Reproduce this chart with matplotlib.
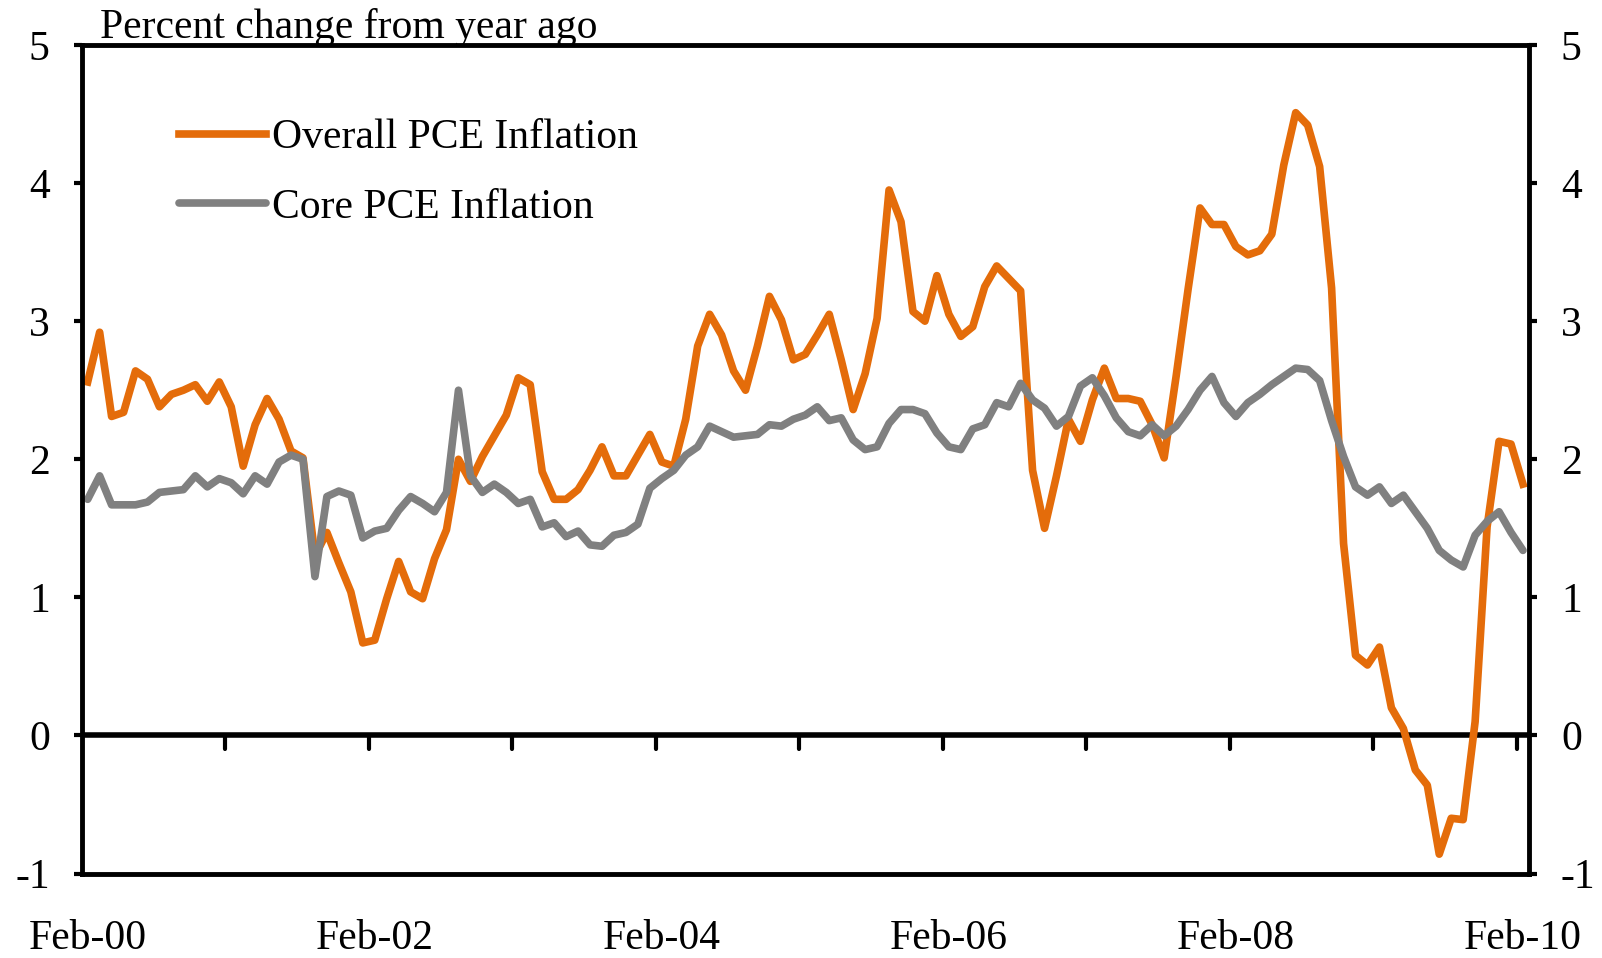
import numpy as np
import matplotlib.pyplot as plt

plt.rcParams['font.family'] = ['Liberation Serif', 'DejaVu Serif']
plt.rcParams['axes.unicode_minus'] = False

# monthly, Feb-2000 .. Feb-2010, percent change from year ago
overall_pce = [
    2.56, 2.92, 2.31, 2.34, 2.64, 2.58, 2.38, 2.47, 2.50, 2.54, 2.42, 2.56,
    2.38, 1.95, 2.25, 2.44, 2.29, 2.06, 2.01, 1.30, 1.47, 1.25, 1.04, 0.67,
    0.69, 0.99, 1.26, 1.04, 0.99, 1.28, 1.49, 2.00, 1.84, 2.02, 2.17, 2.32,
    2.59, 2.54, 1.91, 1.71, 1.71, 1.78, 1.92, 2.09, 1.88, 1.88, 2.03, 2.18,
    1.98, 1.95, 2.29, 2.82, 3.05, 2.90, 2.64, 2.50, 2.82, 3.18, 3.01, 2.72,
    2.76, 2.90, 3.05, 2.72, 2.36, 2.62, 3.02, 3.95, 3.72, 3.07, 3.00, 3.33,
    3.05, 2.89, 2.96, 3.25, 3.40, 3.31, 3.22, 1.92, 1.50, 1.88, 2.29, 2.13,
    2.43, 2.66, 2.44, 2.44, 2.42, 2.25, 2.01, 2.60, 3.23, 3.82, 3.70, 3.70,
    3.54, 3.48, 3.51, 3.63, 4.13, 4.51, 4.42, 4.12, 3.24, 1.39, 0.58, 0.51,
    0.64, 0.20, 0.05, -0.25, -0.36, -0.86, -0.60, -0.61, 0.10, 1.51, 2.13, 2.11,
    1.82,
]
core_pce = [
    1.71, 1.88, 1.67, 1.67, 1.67, 1.69, 1.76, 1.77, 1.78, 1.88, 1.80, 1.86,
    1.83, 1.75, 1.88, 1.82, 1.98, 2.03, 2.00, 1.15, 1.73, 1.77, 1.74, 1.43,
    1.48, 1.50, 1.63, 1.73, 1.68, 1.62, 1.76, 2.50, 1.88, 1.76, 1.82, 1.76,
    1.68, 1.71, 1.51, 1.54, 1.44, 1.48, 1.38, 1.37, 1.45, 1.47, 1.53, 1.79,
    1.86, 1.92, 2.03, 2.09, 2.24, 2.20, 2.16, 2.17, 2.18, 2.25, 2.24, 2.29,
    2.32, 2.38, 2.28, 2.30, 2.14, 2.07, 2.09, 2.26, 2.36, 2.36, 2.33, 2.19,
    2.09, 2.07, 2.22, 2.25, 2.41, 2.38, 2.55, 2.43, 2.37, 2.24, 2.31, 2.53,
    2.59, 2.46, 2.30, 2.20, 2.17, 2.25, 2.17, 2.24, 2.36, 2.50, 2.60, 2.41,
    2.31, 2.41, 2.47, 2.54, 2.60, 2.66, 2.65, 2.57, 2.28, 2.02, 1.80, 1.74,
    1.80, 1.68, 1.74, 1.62, 1.50, 1.34, 1.27, 1.22, 1.45, 1.55, 1.62, 1.47,
    1.34,
]
date_labels = ['Feb-00', 'Feb-02', 'Feb-04', 'Feb-06', 'Feb-08', 'Feb-10']
y_ticks = [-1, 0, 1, 2, 3, 4, 5]

ORANGE = '#E46C0A'
GREY = '#808080'
FS = 30

n = len(overall_pce)
x = np.arange(n)

fig = plt.figure(figsize=(16.02, 9.58), dpi=100)
ax = fig.add_axes([0.051, 0.0882, 0.9034, 0.8648])

ax.plot(x, overall_pce, color=ORANGE, lw=5.5, solid_joinstyle='round',
        label='Overall PCE Inflation', zorder=3)
ax.plot(x, core_pce, color=GREY, lw=5.5, solid_joinstyle='round',
        solid_capstyle='round', label='Core PCE Inflation', zorder=3)

ax.set_xlim(-0.5, n - 0.5)
ax.set_ylim(-1, 5)

# horizontal axis at zero with yearly tick marks pointing down
ax.axhline(0, color='black', lw=4, zorder=2)
for b in np.arange(11.5, n, 12):
    ax.plot([b, b], [0, -0.1], color='black', lw=3, zorder=2,
            solid_capstyle='round')

for s in ax.spines.values():
    s.set_linewidth(3.5)
    s.set_zorder(4)

ax.set_xticks(x[::24])
ax.set_xticklabels(date_labels)
ax.tick_params(axis='x', length=0, pad=33, labelsize=FS)

ax.set_yticks(y_ticks)
ax.set_yticklabels([str(v) for v in y_ticks])
ax.tick_params(axis='y', direction='out', length=6, width=3, pad=17,
               labelsize=FS, left=True, right=True,
               labelleft=True, labelright=True)

fig.text(100 / 1602, 1 - 38 / 958, 'Percent change from year ago',
         fontsize=FS, va='baseline', ha='left')

ax.legend(loc='upper left', bbox_to_anchor=(0.067, 0.911), frameon=False,
          fontsize=FS, handlelength=2.1, handletextpad=0.15,
          labelspacing=0.74, borderpad=0, borderaxespad=0)

fig.savefig('out.png', dpi=100)
